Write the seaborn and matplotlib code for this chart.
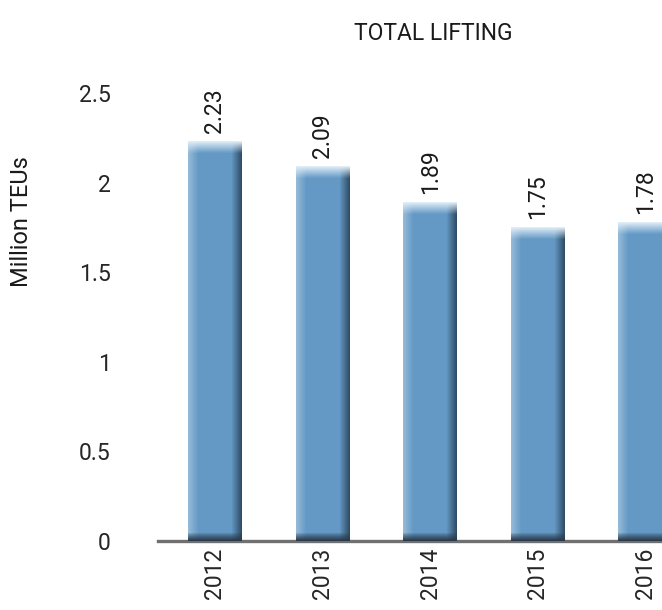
import numpy as np
import pandas as pd
import matplotlib
matplotlib.use("Agg")
import matplotlib.pyplot as plt
import seaborn as sns

# chart data
years = ["2012", "2013", "2014", "2015", "2016"]
teus = [2.23, 2.09, 1.89, 1.75, 1.78]
title = "TOTAL LIFTING"
y_label = "Million TEUs"

df = pd.DataFrame({"Year": years, "TEUs": teus})

sns.set_style("white")
plt.rcParams["font.family"] = ["Roboto", "DejaVu Sans"]
plt.rcParams["text.color"] = "#1a1a1a"

fig = plt.figure(figsize=(6.62, 6.10), dpi=100)
W, H = 662, 610
# axes runs past the right edge so the last bar is clipped like the original
ax = fig.add_axes([158 / W, 69 / H, (700 - 158) / W, (541 - 93) / H])

sns.barplot(data=df, x="Year", y="TEUs", color="#6399C3", width=0.5,
            saturation=1, ax=ax)

ax.set_xlim(-0.53, 4.51)
ax.set_ylim(0, 2.5)
ax.set_yticks([0, 0.5, 1, 1.5, 2, 2.5])
ax.set_yticklabels(["0", "0.5", "1", "1.5", "2", "2.5"])
ax.set_xlabel("")
ax.set_ylabel("")

for s in ["left", "right", "top"]:
    ax.spines[s].set_visible(False)
ax.spines["bottom"].set_color("#707070")
ax.spines["bottom"].set_linewidth(2.4)
ax.tick_params(axis="y", length=0, pad=34, labelsize=16.5)
ax.tick_params(axis="x", length=0, pad=5, labelsize=16.5, labelrotation=90)

# shaded look on each bar (light left edge, dark right edge, light cap, dark foot)
px_per_unit = (541 - 93) / 2.5
base = np.array([0.39, 0.60, 0.77])
light = np.array([0.58, 0.73, 0.85])
dark = np.array([0.19, 0.30, 0.40])
cap = np.array([0.88, 0.93, 0.97])
foot = np.array([0.16, 0.23, 0.30])
for p in ax.patches:
    x0, w, h = p.get_x(), p.get_width(), p.get_height()
    nx = 54
    ny = max(int(round(h * px_per_unit)), 20)
    img = np.tile(base, (ny, nx, 1))
    for i in range(nx):
        if i < 10:
            t = 1 - i / 10
            img[:, i] = base * (1 - t) + light * t
        elif i > nx - 11:
            t = (i - (nx - 11)) / 10
            img[:, i] = base * (1 - t) + dark * t
    for j in range(12):
        t = (1 - j / 12) ** 1.1
        img[j] = img[j] * (1 - t) + cap * t
    for j in range(8):
        t = (1 - j / 8) ** 0.8
        img[ny - 1 - j] = img[ny - 1 - j] * (1 - t) + foot * t
    ax.imshow(img, extent=[x0, x0 + w, 0, h], aspect="auto", zorder=3,
              interpolation="bilinear")
    p.set_visible(False)

ax.set_xlim(-0.53, 4.51)
ax.set_ylim(0, 2.5)

for i, v in enumerate(teus):
    ax.annotate(f"{v:.2f}", xy=(i, v), xytext=(0, 6), textcoords="offset points",
                rotation=90, ha="center", va="bottom", fontsize=16.5,
                annotation_clip=False)

fig.text(433 / W, 1 - 33 / H, title, ha="center", va="center", fontsize=16.5)
fig.text(22 / W, 1 - 222 / H, y_label, ha="center", va="center",
         rotation=90, fontsize=17)

fig.savefig("out.png", dpi=100)
